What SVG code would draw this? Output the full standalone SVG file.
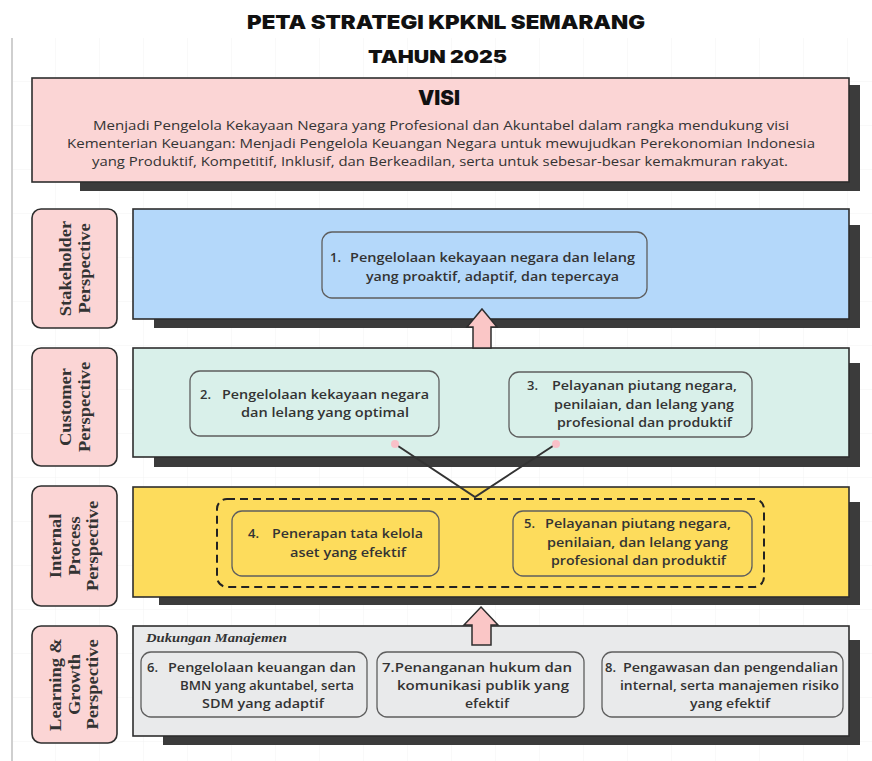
<svg xmlns="http://www.w3.org/2000/svg" width="872" height="761" viewBox="0 0 872 761">
<defs>
<pattern id="grid" width="44" height="44" patternUnits="userSpaceOnUse" x="12" y="38">
<path d="M44 0V44M0 44H44" fill="none" stroke="#f2f3f3" stroke-width="1"/>
</pattern>
</defs>
<style>
.band{stroke:#2e2e2e;stroke-width:1.6}
.shadow{fill:#3b3b3b}
.lbl{fill:#fbd5d5;stroke:#2e2e2e;stroke-width:1.6}
.box{stroke:#5e5e5e;stroke-width:1.3}
.t{font-family:"Open Sans","Noto Sans",sans-serif;font-size:13px;fill:#333;font-weight:600}
.v{font-family:"Open Sans","Noto Sans",sans-serif;font-size:13px;fill:#333;font-weight:500}
.lt{font-family:"Liberation Serif","Times New Roman",serif;font-weight:bold;font-size:16.5px;fill:#333;text-anchor:middle}
.h{font-family:Inter,"Noto Sans",sans-serif;font-weight:900;fill:#111}
.arrow{fill:#fac6c6;stroke:#2e2e2e;stroke-width:1.5;stroke-linejoin:miter}
.conn{stroke:#333;stroke-width:2;fill:none}
.dot{fill:#f9c0c8}
</style>
<rect width="872" height="761" fill="#ffffff"/>
<rect x="12" y="38" width="860" height="723" fill="url(#grid)"/>
<line x1="12" y1="38" x2="12" y2="761" stroke="#cfcfcf" stroke-width="2"/>

<g id="title">
<text class="h" x="247" y="29" font-size="19" textLength="398" lengthAdjust="spacingAndGlyphs">PETA STRATEGI KPKNL SEMARANG</text>
<text class="h" x="368" y="63" font-size="18" textLength="139" lengthAdjust="spacingAndGlyphs">TAHUN 2025</text>
</g>

<g id="visi">
<rect class="shadow" x="80" y="85" width="780" height="106"/>
<rect x="32" y="78" width="817" height="104" fill="#fbd5d5" class="band"/>
<text class="h" x="418" y="105" font-size="20" textLength="42" lengthAdjust="spacingAndGlyphs">VISI</text>
<text class="v" x="93" y="130" textLength="696" lengthAdjust="spacingAndGlyphs">Menjadi Pengelola Kekayaan Negara yang Profesional dan Akuntabel dalam rangka mendukung visi</text>
<text class="v" x="67" y="148" textLength="748" lengthAdjust="spacingAndGlyphs">Kementerian Keuangan: Menjadi Pengelola Keuangan Negara untuk mewujudkan Perekonomian Indonesia</text>
<text class="v" x="92" y="166" textLength="696" lengthAdjust="spacingAndGlyphs">yang Produktif, Kompetitif, Inklusif, dan Berkeadilan, serta untuk sebesar-besar kemakmuran rakyat.</text>
</g>

<!-- Stakeholder -->
<g id="label-stakeholder">
<rect class="lbl" x="32" y="209" width="85" height="119" rx="9"/>
<g transform="translate(74.5,268.5) rotate(-90) scale(1.12,1)">
<text class="lt" x="0" y="-4">Stakeholder</text>
<text class="lt" x="0" y="15">Perspective</text>
</g>
</g>
<g id="band-stakeholder">
<rect class="shadow" x="154" y="225" width="706" height="103"/>
<rect class="band" x="133" y="209" width="716" height="110" fill="#b4d8fa"/>
</g>
<g id="obj1">
<rect class="box" x="322" y="232" width="325" height="66" rx="10" fill="#b4d8fa"/>
<text class="t" x="330" y="262">1.</text>
<text class="t" x="350" y="262" textLength="285" lengthAdjust="spacingAndGlyphs">Pengelolaan kekayaan negara dan lelang</text>
<text class="t" x="366" y="281" textLength="253" lengthAdjust="spacingAndGlyphs">yang proaktif, adaptif, dan tepercaya</text>
</g>

<!-- Customer -->
<g id="label-customer">
<rect class="lbl" x="32" y="348" width="85" height="118" rx="9"/>
<g transform="translate(74.5,407) rotate(-90) scale(1.12,1)">
<text class="lt" x="0" y="-4">Customer</text>
<text class="lt" x="0" y="15">Perspective</text>
</g>
</g>
<g id="band-customer">
<rect class="shadow" x="154" y="363" width="706" height="104"/>
<rect class="band" x="133" y="348" width="716" height="109" fill="#d9f0ea"/>
</g>
<g id="obj2">
<rect class="box" x="190" y="371" width="249" height="65" rx="10" fill="#d9f0ea"/>
<text class="t" x="200" y="399">2.</text>
<text class="t" x="222" y="399" textLength="207" lengthAdjust="spacingAndGlyphs">Pengelolaan kekayaan negara</text>
<text class="t" x="241" y="417" textLength="168" lengthAdjust="spacingAndGlyphs">dan lelang yang optimal</text>
</g>
<g id="obj3">
<rect class="box" x="509" y="372" width="243" height="65" rx="10" fill="#d9f0ea"/>
<text class="t" x="527" y="390">3.</text>
<text class="t" x="552" y="390" textLength="185" lengthAdjust="spacingAndGlyphs">Pelayanan piutang negara,</text>
<text class="t" x="554" y="409" textLength="180" lengthAdjust="spacingAndGlyphs">penilaian, dan lelang yang</text>
<text class="t" x="557" y="427" textLength="175" lengthAdjust="spacingAndGlyphs">profesional dan produktif</text>
</g>

<!-- Internal Process -->
<g id="label-internal">
<rect class="lbl" x="32" y="486" width="85" height="120" rx="9"/>
<g transform="translate(74.5,546) rotate(-90) scale(1.12,1)">
<text class="lt" x="0" y="-14">Internal</text>
<text class="lt" x="0" y="5">Process</text>
<text class="lt" x="0" y="24">Perspective</text>
</g>
</g>
<g id="band-internal">
<rect class="shadow" x="159" y="502" width="701" height="103"/>
<rect class="band" x="133" y="487" width="716" height="110" fill="#fddc5c"/>
<rect x="217" y="499" width="547" height="88" rx="10" fill="none" stroke="#222" stroke-width="2" stroke-dasharray="8 5"/>
</g>
<g id="obj4">
<rect class="box" x="232" y="511" width="207" height="65" rx="10" fill="#fddc5c"/>
<text class="t" x="248" y="538">4.</text>
<text class="t" x="272" y="538" textLength="151" lengthAdjust="spacingAndGlyphs">Penerapan tata kelola</text>
<text class="t" x="290" y="557" textLength="116" lengthAdjust="spacingAndGlyphs">aset yang efektif</text>
</g>
<g id="obj5">
<rect class="box" x="513" y="511" width="239" height="65" rx="10" fill="#fddc5c"/>
<text class="t" x="524" y="528">5.</text>
<text class="t" x="545" y="528" textLength="186" lengthAdjust="spacingAndGlyphs">Pelayanan piutang negara,</text>
<text class="t" x="547" y="547" textLength="181" lengthAdjust="spacingAndGlyphs">penilaian, dan lelang yang</text>
<text class="t" x="551" y="565" textLength="175" lengthAdjust="spacingAndGlyphs">profesional dan produktif</text>
</g>

<!-- Learning & Growth -->
<g id="label-learning">
<rect class="lbl" x="32" y="626" width="85" height="117" rx="9"/>
<g transform="translate(74.5,684.5) rotate(-90) scale(1.12,1)">
<text class="lt" x="0" y="-14">Learning &amp;</text>
<text class="lt" x="0" y="5">Growth</text>
<text class="lt" x="0" y="24">Perspective</text>
</g>
</g>
<g id="band-learning">
<rect class="shadow" x="163" y="640" width="697" height="105"/>
<rect class="band" x="133" y="626" width="716" height="110" fill="#e9eaeb"/>
<text x="146" y="642" font-family="'Liberation Serif',serif" font-weight="bold" font-style="italic" font-size="13.5" fill="#333" textLength="141" lengthAdjust="spacingAndGlyphs">Dukungan Manajemen</text>
</g>
<g id="obj6">
<rect class="box" x="141" y="652" width="226" height="65" rx="10" fill="#e9eaeb"/>
<text class="t" x="147" y="672">6.</text>
<text class="t" x="168" y="672" textLength="188" lengthAdjust="spacingAndGlyphs">Pengelolaan keuangan dan</text>
<text class="t" x="180" y="690" textLength="174" lengthAdjust="spacingAndGlyphs">BMN yang akuntabel, serta</text>
<text class="t" x="202" y="708" textLength="122" lengthAdjust="spacingAndGlyphs">SDM yang adaptif</text>
</g>
<g id="obj7">
<rect class="box" x="377" y="652" width="207" height="65" rx="10" fill="#e9eaeb"/>
<text class="t" x="382" y="672" textLength="190" lengthAdjust="spacingAndGlyphs">7.Penanganan hukum dan</text>
<text class="t" x="397" y="690" textLength="172" lengthAdjust="spacingAndGlyphs">komunikasi publik yang</text>
<text class="t" x="465" y="708" textLength="44" lengthAdjust="spacingAndGlyphs">efektif</text>
</g>
<g id="obj8">
<rect class="box" x="602" y="652" width="241" height="65" rx="10" fill="#e9eaeb"/>
<text class="t" x="605" y="672">8.</text>
<text class="t" x="623" y="672" textLength="215" lengthAdjust="spacingAndGlyphs">Pengawasan dan pengendalian</text>
<text class="t" x="620" y="690" textLength="219" lengthAdjust="spacingAndGlyphs">internal, serta manajemen risiko</text>
<text class="t" x="690" y="708" textLength="80" lengthAdjust="spacingAndGlyphs">yang efektif</text>
</g>

<g id="connectors">
<polygon class="arrow" points="482,309 497,327 491,327 491,348 473,348 473,327 467,327"/>
<polygon class="arrow" points="481,607 498,625 491,625 491,645 472,645 472,625 464,625"/>
<polyline class="conn" points="395,444 475,497 556,444"/>
<circle class="dot" cx="395" cy="444" r="4"/>
<circle class="dot" cx="556" cy="444" r="4"/>
</g>
</svg>
